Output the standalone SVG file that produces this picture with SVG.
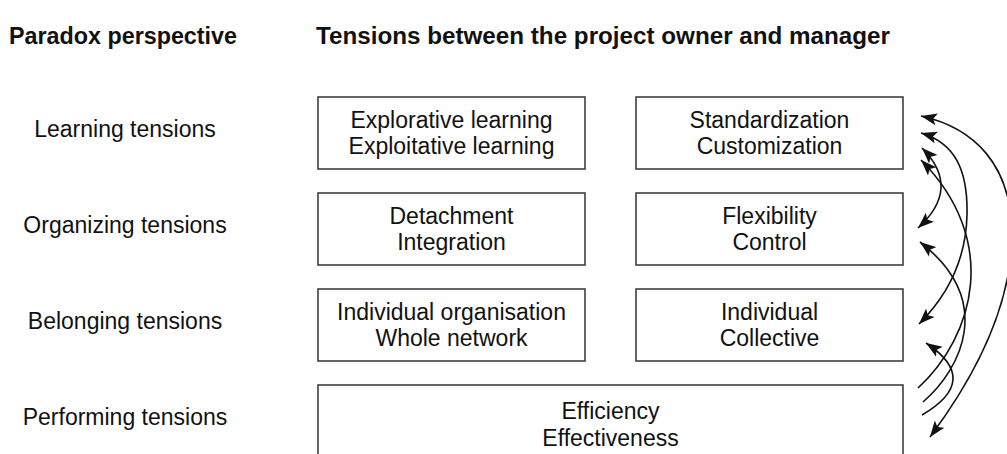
<svg xmlns="http://www.w3.org/2000/svg" width="1007" height="454" viewBox="0 0 1007 454">
  <style>
    .bg { fill: #ffffff; }
    .box { fill: #ffffff; stroke: #333333; stroke-width: 1.5; }
    .t { font-family: "Liberation Sans", Arial, Helvetica, sans-serif; font-size: 23px; fill: #111111; text-anchor: middle; }
    .h { font-family: "Liberation Sans", Arial, Helvetica, sans-serif; font-size: 23px; font-weight: bold; fill: #111111; }
    .link { fill: none; stroke: #111111; stroke-width: 1.6; }
    .one { marker-end: url(#head); }
    .two { marker-start: url(#head); marker-end: url(#head); }
  </style>
  <defs>
    <marker id="head" markerUnits="userSpaceOnUse" markerWidth="17" markerHeight="13" refX="16" refY="6" orient="auto-start-reverse" viewBox="0 0 17 12">
      <path d="M0,0 L16,6 L0,12 L3.5,6 z" fill="#111111"/>
    </marker>
  </defs>

  <rect class="bg" x="0" y="0" width="1007" height="454"/>

  <!-- column headings -->
  <g id="headings">
    <text class="h" x="9" y="44" textLength="228" lengthAdjust="spacingAndGlyphs">Paradox perspective</text>
    <text class="h" x="316" y="44" textLength="574" lengthAdjust="spacingAndGlyphs">Tensions between the project owner and manager</text>
  </g>

  <!-- row labels -->
  <g id="row-labels">
    <text class="t" x="125" y="137">Learning tensions</text>
    <text class="t" x="125" y="233">Organizing tensions</text>
    <text class="t" x="125" y="329">Belonging tensions</text>
    <text class="t" x="125" y="425">Performing tensions</text>
  </g>

  <!-- learning row -->
  <g id="explorative">
    <rect class="box" x="318" y="97" width="267" height="72"/>
    <text class="t" x="451.5" y="128">Explorative learning</text>
    <text class="t" x="451.5" y="154">Exploitative learning</text>
  </g>
  <g id="standardization">
    <rect class="box" x="636" y="97" width="267" height="72"/>
    <text class="t" x="769.5" y="128">Standardization</text>
    <text class="t" x="769.5" y="154">Customization</text>
  </g>

  <!-- organizing row -->
  <g id="detachment">
    <rect class="box" x="318" y="193" width="267" height="72"/>
    <text class="t" x="451.5" y="224">Detachment</text>
    <text class="t" x="451.5" y="250">Integration</text>
  </g>
  <g id="flexibility">
    <rect class="box" x="636" y="193" width="267" height="72"/>
    <text class="t" x="769.5" y="224">Flexibility</text>
    <text class="t" x="769.5" y="250">Control</text>
  </g>

  <!-- belonging row -->
  <g id="organisation">
    <rect class="box" x="318" y="289" width="267" height="72"/>
    <text class="t" x="451.5" y="320">Individual organisation</text>
    <text class="t" x="451.5" y="346">Whole network</text>
  </g>
  <g id="individual">
    <rect class="box" x="636" y="289" width="267" height="72"/>
    <text class="t" x="769.5" y="320">Individual</text>
    <text class="t" x="769.5" y="346">Collective</text>
  </g>

  <!-- performing row -->
  <g id="efficiency">
    <rect class="box" x="318" y="385" width="585" height="80"/>
    <text class="t" x="610.5" y="419">Efficiency</text>
    <text class="t" x="610.5" y="446">Effectiveness</text>
  </g>

  <!-- curved links between the tension rows -->
  <g id="connectors">
    <path class="link two" d="M921,116 C975,128 1010,165 1012,230 C1013,300 980,370 930,437"/>
    <path class="link two" d="M921,133 C955,143 968,170 967,215 C966,258 948,295 919,324"/>
    <path class="link two" d="M922,148 Q962,188 918,228"/>
    <path class="link one" d="M918,388 C975,335 1000,240 921,160"/>
    <path class="link one" d="M923,402 C962,368 995,300 920,242"/>
    <path class="link one" d="M922,415 Q982,380 926,343"/>
  </g>
</svg>
